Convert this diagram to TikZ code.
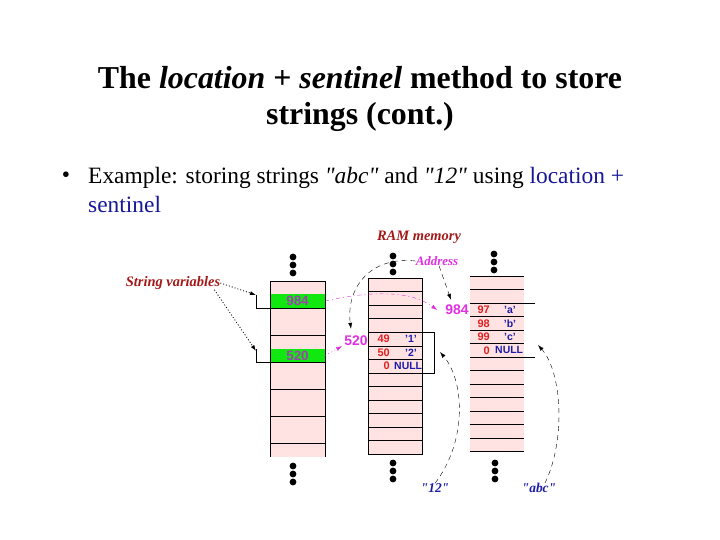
\documentclass[tikz,border=0pt]{standalone}
\usepackage{fontspec}
\setmainfont{Liberation Serif}
\setsansfont{Liberation Sans}
\usetikzlibrary{arrows.meta,positioning,calc}
\definecolor{DarkRed}{HTML}{A31818}
\definecolor{Magenta}{HTML}{E030E0}
\definecolor{NumRed}{HTML}{E02020}
\definecolor{CharBlue}{HTML}{1C1CA8}
\definecolor{TextBlue}{HTML}{16169A}
\definecolor{Cell}{HTML}{FFE2E2}
\definecolor{Var}{HTML}{10E810}
\definecolor{VarText}{HTML}{A040B0}
\begin{document}
\begin{tikzpicture}[x=1bp,y=-1bp,
    ttl/.style={font=\fontsize{32}{37}\selectfont\bfseries,align=center,anchor=base,inner sep=0pt},
    body/.style={font=\fontsize{23.5}{30}\selectfont,align=left,anchor=base west,inner sep=0pt},
    tag/.style={font=\fontsize{14.5}{16}\selectfont\bfseries\itshape,text=DarkRed,inner sep=0pt},
    addr/.style={font=\fontsize{13}{15}\selectfont\bfseries\itshape,text=Magenta,inner sep=0pt},
    strl/.style={font=\fontsize{13.5}{15}\selectfont\bfseries\itshape,text=CharBlue,inner sep=0pt},
    var/.style={fill=Var,minimum width=55bp,minimum height=13.5bp,inner sep=0pt,font=\sffamily\bfseries\fontsize{13.5}{14}\selectfont,text=VarText},
    loc/.style={font=\sffamily\bfseries\fontsize{14}{15}\selectfont,text=Magenta,inner sep=0pt},
    num/.style={font=\sffamily\bfseries\fontsize{11}{12}\selectfont,text=NumRed,anchor=east,inner sep=0pt},
    chr/.style={font=\sffamily\bfseries\fontsize{10.5}{12}\selectfont,text=CharBlue,inner sep=0pt},
    ptr/.style={-{Latex[length=6bp,width=4bp]},thin},
    far/.style={ptr,dash pattern=on 5bp off 4bp},
    dots/.style={ptr,line width=0.8bp,dash pattern=on 1bp off 2bp}]
    \useasboundingbox (0,0) rectangle (720,540);
    % heading
    \node[ttl] (title) at (360,125) {The \textit{location} + \textit{sentinel} method to store\\strings (cont.)};
    \node[font=\fontsize{23.5}{30}\selectfont,inner sep=0pt] (bullet) at (66,177) {\textbullet};
    \node[body] (text) at (88,213) {Example: storing strings \textit{\textquotedbl abc\textquotedbl} and \textit{\textquotedbl 12\textquotedbl} using \textcolor{TextBlue}{location +}\\\textcolor{TextBlue}{sentinel}};
    % memory columns
    \fill[Cell] (270,281) rectangle (325,457);
    \node[var] (v984) at (297.5,301) {984};
    \node[var] (v520) at (297.5,355.5) {520};
    \draw (270,457) -- (270,281) -- (325,281) -- (325,457);
    \foreach \y in {308,335,362,389,416,443} \draw (270,\y) -- (325,\y);
    \fill[Cell] (368,278) rectangle (422,454);
    \draw (368,278) rectangle (422,454);
    \foreach \k in {1,...,12} \draw (368,{278+13.54*\k}) -- (422,{278+13.54*\k});
    \fill[Cell] (470,276) rectangle (524,451.5);
    \foreach \k in {0,...,13} \draw (470,{276+13.5*\k}) -- (524,{276+13.5*\k});
    \foreach \x/\y in {293/257,393/256,494/254,293/466,393/463,495/463}
      \foreach \d in {0,8,16} \fill (\x,\y+\d) circle (3.4bp);
    % stored characters
    \node[num] (n49) at (390,339) {49}; \node[chr] (c1) at (411,339) {'1'};
    \node[num] (n50) at (390,352.5) {50}; \node[chr] (c2) at (411,352.5) {'2'};
    \node[num] (n0a) at (390,366) {0}; \node[chr,anchor=west] (nul1) at (394,366) {NULL};
    \node[num] (n97) at (490,309.8) {97}; \node[chr] (ca) at (510,309.8) {'a'};
    \node[num] (n98) at (490,323.3) {98}; \node[chr] (cb) at (510,323.3) {'b'};
    \node[num] (n99) at (490,336.8) {99}; \node[chr] (cc) at (510,336.8) {'c'};
    \node[num] (n0b) at (490,350.3) {0}; \node[chr,anchor=west] (nul2) at (495,350.3) {NULL};
    % labels
    \node[tag] (svar) at (173,283) {String variables};
    \node[tag] (ram) at (419,237) {RAM memory};
    \node[addr] (addr) at (437,261) {Address};
    \node[loc] (a520) at (356,341) {520};
    \node[loc] (a984) at (457,310) {984};
    \node[strl] (s12) at (435,488) {\textquotedbl 12\textquotedbl};
    \node[strl] (sabc) at (539,488) {\textquotedbl abc\textquotedbl};
    % brackets
    \coordinate (b984) at (256,295); \coordinate (b520) at (256,349);
    \coordinate (b12) at (440,352); \coordinate (babc) at (538,345);
    \draw (b984) |- (270,308); \draw (b520) |- (270,362);
    \draw (422,332.5) -- (434,332.5) -- (434,373) -- (422,373);
    \draw (524,303) -- (535,303) (524,357) -- (535,357);
    % pointers
    \draw[dots] (svar.east) -- (b984);
    \draw[dots] ([xshift=-6]svar.south east) -- ([yshift=-2]b520);
    \draw[far] (addr.west) .. controls (368,256) and (346,290) .. ([shift={(-5,-7)}]a520.north);
    \draw[far] ([xshift=2]addr.south) -- ([shift={(-6,-5)}]a984.north);
    \draw[ptr,Magenta,dash pattern=on 4bp off 3bp on 1bp off 3bp] (v984.east) .. controls (370,291) and (410,290) .. ([xshift=-8]a984.west);
    \draw[ptr,Magenta,dash pattern=on 1bp off 2.5bp] (v520.east) -- ([xshift=-2]a520.south west);
    \draw[far] (s12.north) .. controls (468,440) and (464,380) .. (b12);
    \draw[far] ([xshift=6]sabc.north) .. controls (566,440) and (562,372) .. (babc);
\end{tikzpicture}
\end{document}
